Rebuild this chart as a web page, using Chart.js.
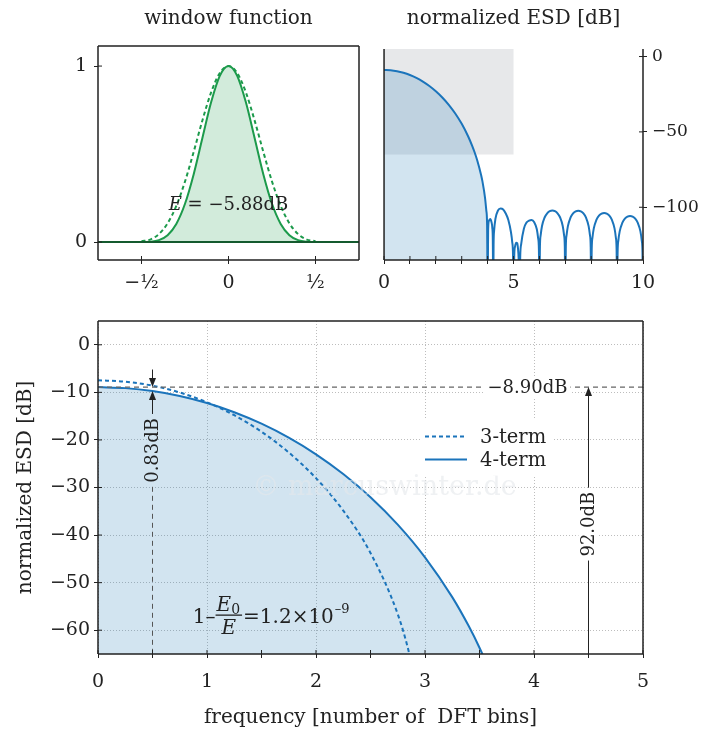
<!DOCTYPE html>
<html>
<head>
<meta charset="utf-8">
<script src="https://cdn.jsdelivr.net/npm/chart.js@4.4.1/dist/chart.umd.min.js"></script>
<style>
  body { margin: 0; background: #fff; }
  #wrap { position: relative; width: 701px; height: 734px; }
  canvas { position: absolute; }
</style>
</head>
<body>
<div id="wrap">
  <canvas id="win" width="370" height="300" style="left:0;top:0"></canvas>
  <canvas id="esd" width="331" height="300" style="left:370px;top:0"></canvas>
  <canvas id="main" width="701" height="434" style="left:0;top:300px"></canvas>
</div>

<script>
    // window function, time in units of the window length
    const winT  = [-0.75, -0.5, -0.45, -0.4, -0.35, -0.3, -0.25, -0.2, -0.15, -0.1, -0.05, 0, 0.05, 0.1, 0.15, 0.2, 0.25, 0.3, 0.35, 0.4, 0.45, 0.5, 0.75];
    const win4  = [0, 0.0001, 0.0018, 0.0110, 0.0392, 0.1030, 0.2175, 0.3859, 0.5910, 0.7938, 0.9443, 1, 0.9443, 0.7938, 0.5910, 0.3859, 0.2175, 0.1030, 0.0392, 0.0110, 0.0018, 0.0001, 0];
    const win3T = [-0.5, -0.45, -0.4, -0.35, -0.3, -0.25, -0.2, -0.15, -0.1, -0.05, 0, 0.05, 0.1, 0.15, 0.2, 0.25, 0.3, 0.35, 0.4, 0.45, 0.5];
    const win3  = [0.0049, 0.0141, 0.0452, 0.1063, 0.2054, 0.3440, 0.5129, 0.6912, 0.8502, 0.9605, 1, 0.9605, 0.8502, 0.6912, 0.5129, 0.3440, 0.2054, 0.1063, 0.0452, 0.0141, 0.0049];
    const baseT = [-0.75, 0.75];
    const baseV = [0, 0];
    const winTicks = [-0.5, 0, 0.5];
    const winTickLabels = ['\u2212\u00bd', '0', '\u00bd'];

    // normalized ESD [dB], main lobe of the 4-term and 3-term windows
    const esdFreq = [0, 0.25, 0.5, 0.75, 1, 1.25, 1.5, 1.75, 2, 2.25, 2.5, 2.75, 3, 3.25, 3.4, 3.5, 3.6, 3.75, 3.8, 3.9, 3.95, 3.98, 4.0];
    const esd4    = [-8.90, -9.11, -9.73, -10.77, -12.25, -14.18, -16.59, -19.52, -23.02, -27.16, -32.04, -37.80, -44.67, -53.04, -59.08, -63.69, -68.95, -78.75, -82.85, -93.7, -102.2, -112, -160];
    const esd3Freq = [0, 0.25, 0.5, 0.75, 1, 1.25, 1.5, 1.75, 2, 2.25, 2.5, 2.75, 2.85, 2.9];
    const esd3     = [-7.47, -7.75, -8.60, -10.03, -12.08, -14.81, -18.28, -22.63, -28.04, -34.86, -43.76, -56.62, -64.4, -69.7];

    // sidelobes of the 4-term window
    const sideFreq = [4.0, 4.02, 4.05, 4.1, 4.15, 4.18, 4.2, 4.218, 4.23, 4.25, 4.3, 4.4, 4.5, 4.6, 4.7, 4.8, 4.9, 4.95, 4.98,
                      5.0, 5.03, 5.06, 5.1, 5.14, 5.17, 5.2, 5.23, 5.26, 5.3, 5.4, 5.5, 5.6, 5.7, 5.8, 5.9, 5.95, 5.98,
                      6.0, 6.02, 6.05, 6.1, 6.2, 6.3, 6.4, 6.5, 6.6, 6.7, 6.8, 6.9, 6.95, 6.98,
                      7.0, 7.02, 7.05, 7.1, 7.2, 7.3, 7.4, 7.5, 7.6, 7.7, 7.8, 7.9, 7.95, 7.98,
                      8.0, 8.02, 8.05, 8.1, 8.2, 8.3, 8.4, 8.5, 8.6, 8.7, 8.8, 8.9, 8.95, 8.98,
                      9.0, 9.02, 9.05, 9.1, 9.2, 9.3, 9.4, 9.5, 9.6, 9.7, 9.8, 9.9, 9.95, 9.98, 10.0];
    const sideDb   = [-160, -115, -109, -107.8, -110, -113.5, -122, -160, -125, -115.7, -107.8, -102.2, -100.9, -101.5, -104.1, -108.4, -116.4, -123.1, -131.4,
                      -160, -131, -126, -123.5, -123.8, -127, -135, -160, -132, -124, -114.2, -110.2, -108.9, -108.5, -110, -114.6, -120.5, -128,
                      -160, -126.2, -118.3, -112.4, -106.8, -104.0, -102.6, -102.2, -102.6, -104.0, -106.8, -112.4, -118.3, -126.2,
                      -160, -126.3, -118.4, -112.5, -106.9, -104.1, -102.7, -102.3, -102.7, -104.1, -106.9, -112.5, -118.4, -126.3,
                      -160, -127.8, -119.9, -114.0, -108.4, -105.6, -104.2, -103.8, -104.2, -105.6, -108.4, -114.0, -119.9, -127.8,
                      -160, -129.8, -121.9, -116.0, -110.4, -107.6, -106.2, -105.8, -106.2, -107.6, -110.4, -116.0, -121.9, -129.8, -160];
    const esdTicks  = [-100, -50, 0];
    const mainYTicks = [-60, -50, -40, -30, -20, -10, 0];

    // region shown in the zoomed plot below
    const zoomBox = { x0: 0, x1: 5, y0: -65, y1: 5 };

    const PEAK_DB = -8.90;
    const SCALLOP_DB = -9.73;
    const labels = { energy: ' = \u22125.88dB', peak: '\u22128.90dB', range: '92.0dB', scallop: '0.83dB', ratio: '=1.2\u00d710', ratioExp: '\u20139' };

    const FONT = '"DejaVu Serif", "Liberation Serif", serif';
    const INK = '#222';
    const BLUE = '#1b74bb';
    const BLUE_FILL = 'rgba(31,119,180,0.2)';
    const GREEN = '#1c9a4b';
    const GREEN_FILL = 'rgba(28,154,75,0.2)';
    const GRID = '#bdbdbd';

    Chart.defaults.font.family = FONT;
    Chart.defaults.font.size = 19;
    Chart.defaults.color = INK;

    function pts(xs, ys) { return xs.map((x, i) => ({ x: x, y: ys[i] })); }
    function fmt(v) { return v < 0 ? '\u2212' + Math.abs(v) : String(v); }

    function arrowHead(ctx, x, y, dir) {
        ctx.beginPath();
        ctx.moveTo(x, y);
        ctx.lineTo(x - 3.5, y - dir * 9);
        ctx.lineTo(x + 3.5, y - dir * 9);
        ctx.closePath();
        ctx.fill();
    }

    // box around the plot plus the inner half of every tick mark
    const frame = {
        id: 'frame',
        afterDraw(chart, args, opts) {
            const { ctx, chartArea: a } = chart;
            const sides = opts.sides || 'tlbr';
            ctx.save();
            ctx.strokeStyle = INK;
            ctx.lineWidth = 1.5;
            ctx.beginPath();
            if (sides.includes('t')) { ctx.moveTo(a.left, a.top); ctx.lineTo(a.right, a.top); }
            if (sides.includes('b')) { ctx.moveTo(a.left, a.bottom); ctx.lineTo(a.right, a.bottom); }
            if (sides.includes('l')) { ctx.moveTo(a.left, a.top); ctx.lineTo(a.left, a.bottom); }
            if (sides.includes('r')) { ctx.moveTo(a.right, a.top); ctx.lineTo(a.right, a.bottom); }
            ctx.stroke();
            ctx.lineWidth = 1;
            ctx.beginPath();
            Object.values(chart.scales).forEach(s => {
                s.ticks.forEach(t => {
                    const p = s.getPixelForValue(t.value);
                    if (s.position === 'bottom') { ctx.moveTo(p, a.bottom); ctx.lineTo(p, a.bottom - 4); }
                    if (s.position === 'left') { ctx.moveTo(a.left, p); ctx.lineTo(a.left + 4, p); }
                    if (s.position === 'right') { ctx.moveTo(a.right, p); ctx.lineTo(a.right - 4, p); }
                });
            });
            ctx.stroke();
            ctx.restore();
        }
    };

    const winNote = {
        id: 'winNote',
        afterDatasetsDraw(chart) {
            const { ctx, scales: { x, y } } = chart;
            ctx.save();
            ctx.textBaseline = 'middle';
            ctx.fillStyle = INK;
            ctx.font = 'italic 18px ' + FONT;
            const wE = ctx.measureText('E').width;
            ctx.font = '18px ' + FONT;
            const wR = ctx.measureText(labels.energy).width;
            const cx = x.getPixelForValue(0) - (wE + wR) / 2;
            const cy = y.getPixelForValue(0.21);
            ctx.font = 'italic 18px ' + FONT;
            ctx.fillText('E', cx, cy);
            ctx.font = '18px ' + FONT;
            ctx.fillText(labels.energy, cx + wE, cy);
            ctx.restore();
        }
    };

    const zoomShade = {
        id: 'zoomShade',
        beforeDatasetsDraw(chart) {
            const { ctx, scales: { x, y } } = chart;
            const l = x.getPixelForValue(zoomBox.x0), r = x.getPixelForValue(zoomBox.x1);
            const t = y.getPixelForValue(zoomBox.y1), b = y.getPixelForValue(zoomBox.y0);
            ctx.save();
            ctx.fillStyle = 'rgba(120,130,140,0.18)';
            ctx.fillRect(l, t, r - l, b - t);
            ctx.restore();
        }
    };

    const annot = {
        id: 'annot',
        afterDatasetsDraw(chart) {
            const { ctx, scales: { x, y } } = chart;
            ctx.save();
            ctx.textAlign = 'center';
            ctx.textBaseline = 'middle';

            // watermark
            ctx.font = '27px ' + FONT;
            ctx.fillStyle = 'rgba(228,231,235,0.6)';
            ctx.fillText('\u00a9 marcuswinter.de', x.getPixelForValue(2.63), y.getPixelForValue(-30));
            ctx.font = '18px ' + FONT;

            // peak level
            const yPeak = y.getPixelForValue(PEAK_DB);
            ctx.strokeStyle = '#666';
            ctx.lineWidth = 1.2;
            ctx.setLineDash([5, 4]);
            ctx.beginPath();
            ctx.moveTo(x.left, yPeak);
            ctx.lineTo(x.right, yPeak);
            ctx.stroke();
            ctx.setLineDash([]);
            const lx = x.getPixelForValue(3.94);
            const wp = ctx.measureText(labels.peak).width;
            ctx.fillStyle = '#fff';
            ctx.fillRect(lx - wp / 2 - 3, yPeak - 10, wp + 6, 20);
            ctx.fillStyle = INK;
            ctx.fillText(labels.peak, lx, yPeak + 1);

            // dynamic range arrow
            const ax = x.getPixelForValue(4.5);
            const ay = y.getPixelForValue(-37.7);
            const wr = ctx.measureText(labels.range).width;
            ctx.strokeStyle = INK;
            ctx.fillStyle = INK;
            ctx.lineWidth = 1;
            ctx.beginPath();
            ctx.moveTo(ax, yPeak + 8);
            ctx.lineTo(ax, ay - wr / 2 - 4);
            ctx.moveTo(ax, ay + wr / 2 + 4);
            ctx.lineTo(ax, y.bottom);
            ctx.stroke();
            arrowHead(ctx, ax, yPeak, -1);
            ctx.save();
            ctx.translate(ax, ay);
            ctx.rotate(-Math.PI / 2);
            ctx.fillStyle = '#fff';
            ctx.fillRect(-wr / 2 - 3, -10, wr + 6, 20);
            ctx.fillStyle = INK;
            ctx.fillText(labels.range, 0, 1);
            ctx.restore();

            // scalloping loss at half a bin
            const sx = x.getPixelForValue(0.5);
            const sy = y.getPixelForValue(-22.2);
            const yS = y.getPixelForValue(SCALLOP_DB);
            const ws = ctx.measureText(labels.scallop).width;
            ctx.beginPath();
            ctx.moveTo(sx, y.getPixelForValue(-5.2));
            ctx.lineTo(sx, yPeak - 8);
            ctx.moveTo(sx, yS + 8);
            ctx.lineTo(sx, sy - ws / 2 - 4);
            ctx.stroke();
            arrowHead(ctx, sx, yPeak, 1);
            arrowHead(ctx, sx, yS, -1);
            ctx.strokeStyle = '#555';
            ctx.setLineDash([5, 4]);
            ctx.beginPath();
            ctx.moveTo(sx, sy + ws / 2 + 4);
            ctx.lineTo(sx, y.bottom);
            ctx.stroke();
            ctx.setLineDash([]);
            ctx.save();
            ctx.translate(sx, sy);
            ctx.rotate(-Math.PI / 2);
            ctx.fillText(labels.scallop, 0, 1);
            ctx.restore();

            // legend
            ctx.font = '19.5px ' + FONT;
            const gx = x.getPixelForValue(3.0), gy = y.getPixelForValue(-19.3);
            ctx.fillStyle = '#fff';
            ctx.fillRect(gx - 4, gy - 17, 132, 56);
            ctx.textAlign = 'left';
            chart.data.datasets.forEach((ds, i) => {
                const yy = gy + i * 23;
                ctx.strokeStyle = ds.borderColor;
                ctx.lineWidth = ds.borderWidth;
                ctx.setLineDash(ds.borderDash || []);
                ctx.beginPath();
                ctx.moveTo(gx, yy);
                ctx.lineTo(gx + 42, yy);
                ctx.stroke();
                ctx.setLineDash([]);
                ctx.fillStyle = INK;
                ctx.fillText(ds.label, gx + 55, yy + 1);
            });

            // energy ratio formula
            ctx.textBaseline = 'alphabetic';
            ctx.fillStyle = INK;
            const fx = x.getPixelForValue(0.87), fy = y.getPixelForValue(-58.5);
            ctx.font = '20px ' + FONT;
            ctx.fillText('1\u2013', fx, fy);
            let cx = fx + ctx.measureText('1\u2013').width + 1;
            const barY = fy - 8;
            ctx.font = 'italic 20px ' + FONT;
            const wE = ctx.measureText('E').width;
            ctx.fillText('E', cx, barY - 4);
            ctx.font = '14px ' + FONT;
            const w0 = ctx.measureText('0').width;
            ctx.fillText('0', cx + wE, barY - 1);
            const fw = wE + w0 + 1;
            ctx.font = 'italic 20px ' + FONT;
            ctx.fillText('E', cx + (fw - wE) / 2, barY + 19);
            ctx.fillRect(cx - 1, barY - 0.6, fw + 2, 1.3);
            cx += fw + 2;
            ctx.font = '20px ' + FONT;
            ctx.fillText(labels.ratio, cx, fy);
            cx += ctx.measureText(labels.ratio).width + 1;
            ctx.font = '13px ' + FONT;
            ctx.fillText(labels.ratioExp, cx, fy - 10);

            ctx.restore();
        }
    };

    new Chart(document.getElementById('win'), {
        type: 'line',
        data: {
            datasets: [
                { data: pts(baseT, baseV), borderColor: '#145a2e', borderWidth: 2, pointRadius: 0, fill: false },
                { data: pts(win3T, win3), borderColor: GREEN, borderWidth: 2, borderDash: [4, 3], pointRadius: 0, fill: false, cubicInterpolationMode: 'monotone' },
                { data: pts(winT, win4), borderColor: GREEN, borderWidth: 2, backgroundColor: GREEN_FILL, fill: 'origin', pointRadius: 0, cubicInterpolationMode: 'monotone' }
            ]
        },
        options: {
            responsive: false,
            animation: false,
            layout: { padding: { left: 0, right: 11, top: 0, bottom: 0 } },
            plugins: {
                legend: { display: false },
                tooltip: { enabled: false },
                title: { display: true, text: 'window function', fullSize: false, color: INK, font: { size: 20, weight: 'normal' }, padding: { top: 7, bottom: 15 } }
            },
            scales: {
                x: {
                    type: 'linear', min: -0.75, max: 0.75,
                    afterBuildTicks: s => { s.ticks = winTicks.map(v => ({ value: v })); },
                    ticks: { padding: 8, autoSkip: false, maxRotation: 0, callback: (v, i) => winTickLabels[i] },
                    grid: { drawOnChartArea: false, tickLength: 4, tickColor: INK },
                    border: { display: false },
                    afterFit: s => { s.height = 40; }
                },
                y: {
                    min: -0.102, max: 1.114,
                    ticks: { stepSize: 1, includeBounds: false, padding: 7 },
                    grid: { drawOnChartArea: false, tickLength: 4, tickColor: INK },
                    border: { display: false },
                    afterFit: s => { s.width = 98; }
                }
            }
        },
        plugins: [winNote, frame]
    });

    new Chart(document.getElementById('esd'), {
        type: 'line',
        data: {
            datasets: [
                { data: pts(sideFreq, sideDb), borderColor: BLUE, borderWidth: 2, pointRadius: 0, fill: false, cubicInterpolationMode: 'monotone' },
                { data: pts(esdFreq, esd4), borderColor: BLUE, borderWidth: 2, backgroundColor: BLUE_FILL, fill: 'start', pointRadius: 0, cubicInterpolationMode: 'monotone' }
            ]
        },
        options: {
            responsive: false,
            animation: false,
            layout: { padding: { left: 13, right: 0, top: 0, bottom: 0 } },
            plugins: {
                legend: { display: false },
                tooltip: { enabled: false },
                title: { display: true, text: 'normalized ESD [dB]', fullSize: false, color: INK, font: { size: 20, weight: 'normal' }, padding: { top: 7, bottom: 18 } },
                frame: { sides: 'lbr' }
            },
            scales: {
                x: {
                    type: 'linear', min: 0, max: 10,
                    ticks: { stepSize: 1, padding: 8, autoSkip: false, maxRotation: 0, callback: v => (v % 5 === 0 ? String(v) : '') },
                    grid: { drawOnChartArea: false, tickLength: 4, tickColor: INK },
                    border: { display: false },
                    afterFit: s => { s.height = 40; }
                },
                y: {
                    position: 'right', min: -135, max: 5,
                    afterBuildTicks: s => { s.ticks = esdTicks.map(v => ({ value: v })); },
                    ticks: { padding: 5, font: { size: 17 }, crossAlign: 'near', callback: v => fmt(v) },
                    grid: { drawOnChartArea: false, tickLength: 4, tickColor: INK },
                    border: { display: false },
                    afterFit: s => { s.width = 58; }
                }
            }
        },
        plugins: [zoomShade, frame]
    });

    new Chart(document.getElementById('main'), {
        type: 'line',
        data: {
            datasets: [
                { label: '3-term', data: pts(esd3Freq, esd3), borderColor: BLUE, borderWidth: 2, borderDash: [4, 3], pointRadius: 0, fill: false, cubicInterpolationMode: 'monotone' },
                { label: '4-term', data: pts(esdFreq, esd4), borderColor: BLUE, borderWidth: 2, backgroundColor: BLUE_FILL, fill: 'start', pointRadius: 0, cubicInterpolationMode: 'monotone' }
            ]
        },
        options: {
            responsive: false,
            animation: false,
            layout: { padding: { left: 0, right: 58, top: 21, bottom: 0 } },
            plugins: { legend: { display: false }, tooltip: { enabled: false } },
            scales: {
                x: {
                    type: 'linear', min: 0, max: 5,
                    ticks: { stepSize: 0.5, padding: 13, autoSkip: false, maxRotation: 0, callback: v => (Number.isInteger(v) ? String(v) : '') },
                    grid: { color: c => (Number.isInteger(c.tick.value) ? GRID : 'transparent'), tickLength: 4, tickColor: INK },
                    border: { display: false, dash: [1, 2] },
                    title: { display: true, text: 'frequency [number of  DFT bins]', color: INK, font: { size: 20 }, padding: { top: 0, bottom: 4 } },
                    afterFit: s => { s.height = 80; }
                },
                y: {
                    min: -65, max: 5,
                    afterBuildTicks: s => { s.ticks = mainYTicks.map(v => ({ value: v })); },
                    ticks: { padding: 4, callback: v => fmt(v) },
                    grid: { color: GRID, tickLength: 4, tickColor: INK },
                    border: { display: false, dash: [1, 2] },
                    title: { display: true, text: 'normalized ESD [dB]', color: INK, font: { size: 20 }, padding: { top: 14, bottom: 0 } },
                    afterFit: s => { s.width = 98; }
                }
            }
        },
        plugins: [annot, frame]
    });
</script>
</body>
</html>
